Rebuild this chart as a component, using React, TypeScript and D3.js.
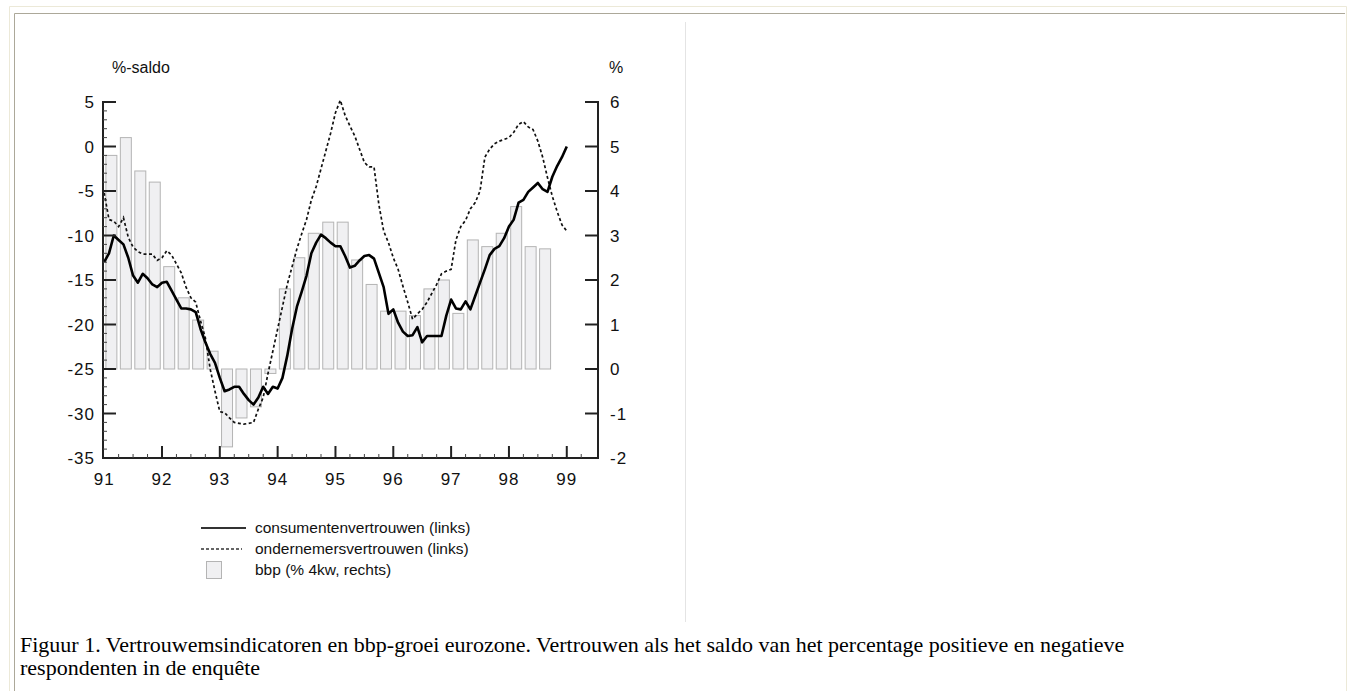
import React from "react";
import * as d3 from "d3";

// consumentenvertrouwen, monthly Jan 1991 .. Jan 1999 (left axis)
const consumer = [
  -13, -12, -10, -10.5, -11, -12.5, -14.5, -15.3, -14.3, -14.8, -15.5, -15.8,
  -15.3, -15.2, -16.2, -17.2, -18.2, -18.2, -18.3, -18.6, -20.5, -22, -23.3, -24.3,
  -26, -27.5, -27.3, -27, -27, -27.8, -28.5, -29, -28.2, -27, -27.8, -27,
  -27.2, -26, -23.5, -20.5, -18, -16.3, -14.5, -12, -10.8, -9.9, -10.3, -10.8,
  -11.2, -11.2, -12.3, -13.6, -13.4, -12.8, -12.3, -12.2, -12.6, -14.2, -15.8, -18.8,
  -18.3, -19.8, -20.8, -21.3, -21.2, -20.3, -22, -21.3, -21.3, -21.3, -21.3, -19,
  -17.2, -18.2, -18.3, -17.4, -18.3, -16.8, -15.3, -13.8, -12.2, -11.5, -11.2, -10.3,
  -9, -8.2, -6.3, -6, -5.1, -4.6, -4.1, -4.8, -5.1, -3.4, -2.2, -1.2,
  0,
];

// ondernemersvertrouwen, monthly Jan 1991 .. Jan 1999 (left axis)
const producer = [
  -5.2, -8.2, -8.4, -9, -8, -10.2, -11.3, -11.8, -12.1, -12.1, -12.1, -12.8,
  -12.5, -11.7, -12.2, -13.2, -14.2, -15.8, -17, -17.5, -19.6, -21.5, -25, -27.5,
  -29.8, -29.9, -30.5, -31, -31.1, -31.2, -31.1, -31, -29.5, -28.2, -25.5, -23,
  -20.5, -18, -15.5, -13.5, -11.5, -9.8, -8.2, -6, -4.5, -2.5, -0.5, 1.5,
  3.8, 5.2, 3.5, 2.3, 1.2, -0.3, -1.8, -2.3, -2.3, -6.5, -9.5, -10.8,
  -12.5, -13.8, -15.7, -17.5, -19.4, -18.8, -18.3, -17.5, -16.5, -15.5, -14.3, -14,
  -13.8, -10.5, -9, -8.3, -7, -6.3, -5, -1.2, -0.3, 0.3, 0.6, 0.8,
  1, 1.6, 2.5, 2.8, 2.2, 1.9, 0.6, -1.2, -3.5, -5.6, -7.3, -8.8,
  -9.5,
];

// bbp-groei (% 4kw), quarterly 1991Q1 .. 1998Q3 (right axis)
const gdp = [
  4.8, 5.2, 4.45, 4.2,
  2.3, 1.6, 1.1, 0.4,
  -1.75, -1.1, -0.85, -0.1,
  1.8, 2.5, 3.05, 3.3,
  3.3, 2.45, 1.9, 1.3,
  1.3, 1.2, 1.8, 2.0,
  1.25, 2.9, 2.75, 3.05,
  3.65, 2.75, 2.7,
];

const leftTicks = [5, 0, -5, -10, -15, -20, -25, -30, -35];
const rightTicks = [6, 5, 4, 3, 2, 1, 0, -1, -2];
const yearLabels = ["91", "92", "93", "94", "95", "96", "97", "98", "99"];
const legendLabels = [
  "consumentenvertrouwen (links)",
  "ondernemersvertrouwen (links)",
  "bbp (% 4kw, rechts)",
];
const captionLines = [
  "Figuur 1. Vertrouwemsindicatoren en bbp-groei eurozone. Vertrouwen als het saldo van het percentage positieve en negatieve",
  "respondenten in de enquête",
];

const sans = "'Liberation Sans', Arial, sans-serif";
const serif = "'Liberation Serif', 'Times New Roman', serif";

export default function App() {
  const left = 103, right = 598, top = 102, bottom = 458;

  const x = d3.scaleLinear().domain([1990.98, 1999.54]).range([left, right]);
  const yL = d3.scaleLinear().domain([-35, 5]).range([bottom, top]);
  const yR = d3.scaleLinear().domain([-2, 6]).range([bottom, top]);

  const monthX = (i: number) => x(1991 + i / 12);
  const line = d3
    .line<number>()
    .x((_, i) => monthX(i))
    .y((d) => yL(d));

  const qW = x(1991.25) - x(1991);
  const barW = qW * 0.76;

  const minorLeft = d3.range(-35, 6, 1).filter((v) => v % 5 !== 0);
  const majorYears = d3.range(1992, 2000);
  const minorQuarters = d3
    .range(1991.25, 1999.5, 0.25)
    .filter((v) => v % 1 !== 0);

  return (
    <div style={{ position: "absolute", left: 0, top: 0 }}>
      <svg width={1350} height={691} style={{ display: "block", background: "#fff" }}>
        {/* page table borders */}
        <line x1={9.5} y1={6.5} x2={1346.5} y2={6.5} stroke="#ece9d8" strokeWidth={1} />
        <line x1={9.5} y1={6.5} x2={9.5} y2={691} stroke="#ece9d8" strokeWidth={1} />
        <line x1={1346.5} y1={6.5} x2={1346.5} y2={691} stroke="#ece9d8" strokeWidth={1} />
        <line x1={14.5} y1={13.5} x2={1345} y2={13.5} stroke="#aca899" strokeWidth={1} />
        <line x1={14.5} y1={13.5} x2={14.5} y2={691} stroke="#aca899" strokeWidth={1} />
        <line x1={685.5} y1={22} x2={685.5} y2={622} stroke="#e4e4e4" strokeWidth={1} />

        {/* bars */}
        {gdp.map((v, i) => {
          const cx = x(1991 + (i + 0.5) / 4);
          const y0 = yR(0), y1 = yR(v);
          return (
            <rect
              key={"b" + i}
              x={cx - barW / 2}
              y={Math.min(y0, y1)}
              width={barW}
              height={Math.abs(y1 - y0)}
              fill="#f0f0f2"
              stroke="#b4b4b4"
              strokeWidth={1}
            />
          );
        })}

        {/* lines */}
        <path d={line(producer) || ""} fill="none" stroke="#111" strokeWidth={1.7} strokeDasharray="3,2.5" />
        <path d={line(consumer) || ""} fill="none" stroke="#000" strokeWidth={2.6} strokeLinejoin="round" />

        {/* axes */}
        <g stroke="#222" strokeWidth={2}>
          <line x1={left} y1={top - 1} x2={left} y2={bottom + 1} />
          <line x1={right} y1={top - 1} x2={right} y2={bottom + 1} />
          <line x1={left - 1} y1={bottom} x2={right + 1} y2={bottom} />
          {leftTicks.map((v) => (
            <line key={"lt" + v} x1={left} x2={left + 13} y1={yL(v)} y2={yL(v)} />
          ))}
          {rightTicks.map((v) => (
            <line key={"rt" + v} x1={right - 13} x2={right} y1={yR(v)} y2={yR(v)} />
          ))}
          {majorYears.map((v) => (
            <line key={"xt" + v} x1={x(v)} x2={x(v)} y1={bottom} y2={bottom - 12} />
          ))}
        </g>
        <g stroke="#444" strokeWidth={1}>
          {minorLeft.map((v) => (
            <line key={"lm" + v} x1={left} x2={left + 4} y1={yL(v)} y2={yL(v)} />
          ))}
          {minorQuarters.map((v) => (
            <line key={"xm" + v} x1={x(v)} x2={x(v)} y1={bottom} y2={bottom - 4} />
          ))}
        </g>

        {/* tick labels */}
        <g fontFamily={sans} fontSize={17} fill="#111" letterSpacing={1}>
          {leftTicks.map((v) => (
            <text key={"ll" + v} x={95} y={yL(v)} dy="0.36em" textAnchor="end">
              {v}
            </text>
          ))}
          {rightTicks.map((v) => (
            <text key={"rl" + v} x={610} y={yR(v)} dy="0.36em">
              {v}
            </text>
          ))}
          {yearLabels.map((t, i) => (
            <text key={"yl" + t} x={x(1991 + i)} y={485} textAnchor="middle">
              {t}
            </text>
          ))}
        </g>
        <g fontFamily={sans} fontSize={16} fill="#111">
          <text x={112} y={73}>%-saldo</text>
          <text x={609} y={73}>%</text>
        </g>

        {/* legend */}
        <g fontFamily={sans} fontSize={15.5} fill="#111">
          <line x1={201} x2={246} y1={528} y2={528} stroke="#333" strokeWidth={2} />
          <line x1={201} x2={242} y1={549} y2={549} stroke="#333" strokeWidth={1.3} strokeDasharray="3,2" />
          <rect x={206.5} y={561.5} width={15} height={17} fill="#f0f0f2" stroke="#b4b4b4" />
          {legendLabels.map((t, i) => (
            <text key={t} x={255} y={528 + i * 21} dy="0.35em">
              {t}
            </text>
          ))}
        </g>

        {/* caption */}
        <g fontFamily={serif} fontSize={22} fill="#000">
          {captionLines.map((t, i) => (
            <text key={i} x={20} y={652 + i * 23}>
              {t}
            </text>
          ))}
        </g>
      </svg>
    </div>
  );
}
